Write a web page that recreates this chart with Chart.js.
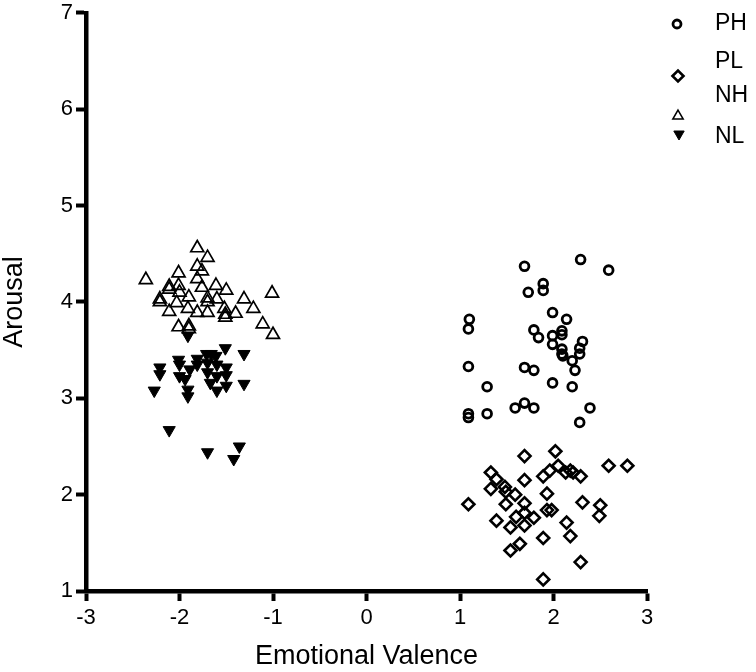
<!DOCTYPE html>
<html>
<head>
<meta charset="utf-8">
<script src="https://cdn.jsdelivr.net/npm/chart.js@4/dist/chart.umd.min.js"></script>
<style>
  html, body { margin: 0; padding: 0; background: #fff; }
  #wrap { width: 756px; height: 672px; }
</style>
</head>
<body>
<div id="wrap"><canvas id="c" width="756" height="672"></canvas></div>
<script>
// ---- data ----
const seriesLabels = ['PH', 'PL', 'NH', 'NL'];
const xTicks = [-3, -2, -1, 0, 1, 2, 3];
const yTicks = [1, 2, 3, 4, 5, 6, 7];

const phX = [1.69,2.29,2.59,1.89,1.89,1.73,1.10,1.09,1.99,2.14,1.79,1.84,1.99,2.09,2.09,1.99,2.09,2.09,2.10,2.31,2.28,2.28,2.20,2.23,1.09,1.69,1.79,1.29,1.99,2.20,1.59,1.69,1.79,2.39,1.09,1.09,1.29,2.28];
const phY = [4.37,4.44,4.33,4.19,4.12,4.10,3.82,3.72,3.89,3.82,3.71,3.63,3.65,3.70,3.66,3.56,3.51,3.46,3.44,3.59,3.52,3.46,3.39,3.29,3.33,3.32,3.29,3.12,3.16,3.12,2.90,2.95,2.90,2.90,2.84,2.80,2.84,2.75];

const plX = [1.69,2.02,2.59,2.79,2.05,1.96,1.89,2.13,2.18,2.21,2.29,1.33,1.39,1.69,1.33,1.48,1.49,1.59,1.93,1.09,1.49,1.69,2.31,2.50,1.93,1.98,1.69,1.60,1.79,2.49,1.39,1.69,1.54,2.14,2.18,1.89,1.64,1.54,2.29,1.89];
const plY = [2.40,2.45,2.30,2.30,2.30,2.25,2.19,2.23,2.25,2.23,2.19,2.23,2.16,2.15,2.06,2.08,2.03,2.00,2.01,1.90,1.90,1.91,1.92,1.89,1.84,1.84,1.81,1.77,1.76,1.78,1.73,1.68,1.66,1.71,1.57,1.55,1.49,1.42,1.30,1.12];

const nhX = [-1.81,-1.70,-2.36,-2.01,-1.81,-1.76,-1.81,-2.11,-2.11,-2.01,-1.76,-1.61,-1.50,-1.01,-2.00,-2.21,-2.21,-1.90,-1.70,-1.70,-1.60,-1.31,-2.03,-2.11,-1.91,-1.81,-1.70,-1.52,-1.51,-1.51,-1.40,-1.21,-2.01,-1.90,-1.90,-1.11,-1.00];
const nhY = [4.56,4.46,4.23,4.30,4.37,4.32,4.24,4.16,4.13,4.17,4.15,4.17,4.12,4.09,4.10,4.03,4.00,4.05,4.04,4.00,4.03,4.03,3.99,3.90,3.93,3.89,3.89,3.93,3.87,3.84,3.88,3.93,3.74,3.75,3.72,3.77,3.66];

const nlX = [-1.91,-1.51,-1.31,-2.01,-1.81,-1.71,-1.66,-1.61,-2.21,-2.21,-2.00,-1.89,-1.81,-1.70,-1.60,-1.50,-2.00,-1.94,-1.70,-1.60,-1.50,-1.67,-1.60,-1.50,-1.31,-2.27,-1.91,-1.91,-2.11,-1.70,-1.36,-1.42];
const nlY = [3.65,3.52,3.46,3.40,3.41,3.46,3.46,3.44,3.32,3.25,3.35,3.30,3.35,3.37,3.35,3.32,3.23,3.20,3.27,3.23,3.24,3.16,3.08,3.13,3.15,3.08,3.09,3.02,2.67,2.44,2.50,2.37];

// ---- build ----
const FONT = "'Liberation Sans', Arial, Helvetica, sans-serif";
function pts(xs, ys) { return xs.map((x, i) => ({ x: x, y: ys[i] })); }

const styles = [
  { pointStyle: 'circle', radius: 4.4, borderWidth: 2.8, rotation: 0, fill: 'rgba(0,0,0,0)' },
  { pointStyle: 'rectRot', radius: 6, borderWidth: 2.6, rotation: 0, fill: 'rgba(0,0,0,0)' },
  { pointStyle: 'triangle', radius: 7.5, borderWidth: 1.7, rotation: 0, fill: 'rgba(0,0,0,0)' },
  { pointStyle: 'triangle', radius: 7, borderWidth: 1, rotation: 180, fill: '#000' }
];
const series = [pts(phX, phY), pts(plX, plY), pts(nhX, nhY), pts(nlX, nlY)];

const datasets = series.map((d, i) => ({
  label: seriesLabels[i],
  data: d,
  pointStyle: styles[i].pointStyle,
  pointRadius: styles[i].radius,
  pointHoverRadius: styles[i].radius,
  pointBorderWidth: styles[i].borderWidth,
  pointRotation: styles[i].rotation,
  borderColor: '#000',
  backgroundColor: styles[i].fill,
  pointBackgroundColor: styles[i].fill,
  pointBorderColor: '#000',
  showLine: false
}));

// custom legend (GraphPad-like placement)
const legendLayout = [
  { mx: 677, my: 24, ty: 24, r: 4, bw: 2.8 },
  { mx: 678, my: 76, ty: 62, r: 5.5, bw: 2.6 },
  { mx: 678, my: 116, ty: 96, r: 6, bw: 1.5 },
  { mx: 679, my: 134, ty: 137, r: 6, bw: 1 }
];
const legendPlugin = {
  id: 'customLegend',
  afterDraw(chart) {
    const ctx = chart.ctx;
    ctx.save();
    chart.data.datasets.forEach((ds, i) => {
      const L = legendLayout[i];
      ctx.strokeStyle = '#000';
      ctx.fillStyle = ds.pointBackgroundColor;
      ctx.lineWidth = L.bw;
      Chart.helpers.drawPoint(ctx, {
        pointStyle: ds.pointStyle,
        radius: L.r,
        rotation: ds.pointRotation,
        borderWidth: L.bw
      }, L.mx, L.my);
      ctx.fillStyle = '#000';
      ctx.font = '23px ' + FONT;
      ctx.textAlign = 'left';
      ctx.textBaseline = 'middle';
      ctx.fillText(ds.label, 715, L.ty);
    });
    ctx.restore();
  }
};

new Chart(document.getElementById('c'), {
  type: 'scatter',
  data: { datasets: datasets },
  plugins: [legendPlugin],
  options: {
    responsive: false,
    animation: false,
    events: [],
    layout: { padding: { left: 0, right: 109, top: 10, bottom: 0 } },
    plugins: { legend: { display: false }, tooltip: { enabled: false } },
    scales: {
      x: {
        type: 'linear',
        min: xTicks[0],
        max: xTicks[xTicks.length - 1],
        afterBuildTicks(s) { s.ticks = xTicks.map(v => ({ value: v })); },
        ticks: { color: '#000', font: { size: 22, family: FONT }, padding: 4, maxRotation: 0 },
        grid: { drawOnChartArea: false, drawTicks: true, tickLength: 10, tickWidth: 4, tickColor: '#000' },
        border: { display: true, color: '#000', width: 4.5 },
        title: { display: true, text: 'Emotional Valence', color: '#000', font: { size: 27, family: FONT, lineHeight: 1.15 }, padding: 0 },
        afterFit(s) { s.height = 81; }
      },
      y: {
        type: 'linear',
        min: yTicks[0],
        max: yTicks[yTicks.length - 1],
        afterBuildTicks(s) { s.ticks = yTicks.map(v => ({ value: v })); },
        ticks: { color: '#000', font: { size: 22, family: FONT, lineHeight: 0.9 }, padding: 3 },
        grid: { drawOnChartArea: false, drawTicks: true, tickLength: 10, tickWidth: 4, tickColor: '#000' },
        border: { display: true, color: '#000', width: 4.5 },
        title: { display: true, text: 'Arousal', color: '#000', font: { size: 27, family: FONT, lineHeight: 1.1 }, padding: 0 },
        afterFit(s) { s.width = 86; }
      }
    }
  }
});
</script>
</body>
</html>
